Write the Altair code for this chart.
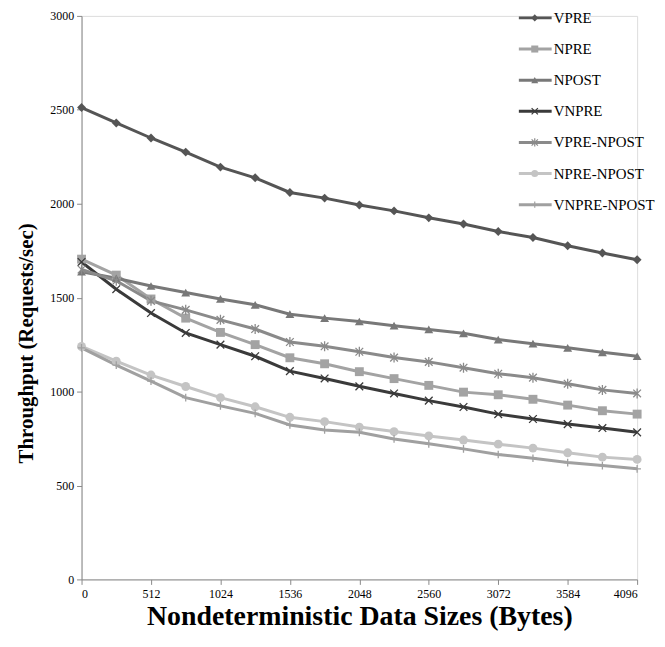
import altair as alt
import pandas as pd

sizes = [0, 256, 512, 768, 1024, 1280, 1536, 1792, 2048, 2304, 2560, 2816, 3072, 3328, 3584, 3840, 4096]
series_names = ["VPRE", "NPRE", "NPOST", "VNPRE", "VPRE-NPOST", "NPRE-NPOST", "VNPRE-NPOST"]

vpre = [2512, 2430, 2350, 2275, 2195, 2138, 2060, 2030, 1993, 1962, 1925, 1892, 1852, 1820, 1776, 1738, 1702]
npre = [1705, 1620, 1493, 1391, 1315, 1250, 1180, 1148, 1106, 1069, 1033, 997, 983, 959, 928, 898, 880]
npost = [1638, 1603, 1562, 1527, 1493, 1462, 1412, 1391, 1373, 1351, 1331, 1310, 1277, 1255, 1233, 1209, 1188]
vnpre = [1690, 1545, 1418, 1312, 1250, 1188, 1109, 1070, 1028, 990, 952, 918, 880, 854, 827, 806, 783]
vpre_npost = [1650, 1590, 1483, 1435, 1382, 1333, 1264, 1241, 1212, 1181, 1158, 1127, 1095, 1074, 1042, 1009, 990]
npre_npost = [1240, 1162, 1088, 1027, 968, 919, 863, 840, 811, 787, 764, 742, 720, 699, 674, 651, 639]
vnpre_npost = [1233, 1141, 1056, 968, 924, 884, 822, 796, 783, 748, 722, 695, 665, 645, 622, 606, 589]

colors = ["#555555", "#a3a3a3", "#787878", "#3a3a3a", "#8a8a8a", "#c4c4c4", "#a0a0a0"]
shapes = [
    "diamond",
    "square",
    "triangle-up",
    "M-1,-1L1,1M-1,1L1,-1",
    "M-1,-1L1,1M-1,1L1,-1M0,-1.3L0,1.3",
    "circle",
    "M0,-1L0,1M-1,0L1,0",
]
filled_series = ["VPRE", "NPRE", "NPOST", "NPRE-NPOST"]

all_values = [vpre, npre, npost, vnpre, vpre_npost, npre_npost, vnpre_npost]
rows = []
for name, vals in zip(series_names, all_values):
    for s, v in zip(sizes, vals):
        rows.append({"size": s, "series": name, "throughput": v})
df = pd.DataFrame(rows)
legend_df = pd.DataFrame({"series": series_names})

FONT = "Liberation Serif"

color_scale = alt.Scale(domain=series_names, range=colors)
shape_scale = alt.Scale(domain=series_names, range=shapes)

x_enc = alt.X(
    "size:Q",
    scale=alt.Scale(domain=[0, 4096], nice=False),
    axis=alt.Axis(
        values=sizes,
        labelExpr="datum.value % 512 == 0 ? datum.label : ''",
        format="d",
        title="Nondeterministic Data Sizes (Bytes)",
        titleFont=FONT,
        titleFontSize=28,
        titleFontWeight="bold",
        titleColor="#000000",
        titleY=37,
        titleBaseline="middle",
        labelFont=FONT,
        labelFontSize=12,
        labelColor="#000000",
        labelPadding=4,
        domainColor="#888888",
        tickColor="#888888",
        tickSize=5,
        grid=False,
    ),
)
y_enc = alt.Y(
    "throughput:Q",
    scale=alt.Scale(domain=[0, 3000], nice=False),
    axis=alt.Axis(
        values=[0, 500, 1000, 1500, 2000, 2500, 3000],
        format="d",
        title="Throughput (Requests/sec)",
        titleFont=FONT,
        titleFontSize=21,
        titleFontWeight="bold",
        titleColor="#000000",
        titleAngle=-90,
        titleX=-55,
        titleY=329,
        titleAlign="center",
        titleBaseline="middle",
        labelFont=FONT,
        labelFontSize=12,
        labelColor="#000000",
        labelPadding=3,
        domainColor="#888888",
        tickColor="#888888",
        tickSize=5,
        grid=False,
    ),
)

base = alt.Chart(df)

lines = base.mark_line(strokeWidth=3).encode(
    x=x_enc,
    y=y_enc,
    color=alt.Color("series:N", scale=color_scale, legend=None),
    detail="series:N",
)

filled_pts = base.transform_filter(
    alt.FieldOneOfPredicate(field="series", oneOf=filled_series)
).mark_point(filled=True, opacity=1, size=80).encode(
    x="size:Q",
    y="throughput:Q",
    color=alt.Color("series:N", scale=color_scale, legend=None),
    shape=alt.Shape("series:N", scale=shape_scale, legend=None),
)

open_pts = base.transform_filter(
    {"not": alt.FieldOneOfPredicate(field="series", oneOf=filled_series)}
).mark_point(filled=False, opacity=1, size=60, strokeWidth=1.3).encode(
    x="size:Q",
    y="throughput:Q",
    color=alt.Color("series:N", scale=color_scale, legend=None),
    shape=alt.Shape("series:N", scale=shape_scale, legend=None),
)

# Legend built as a layer
leg_y = alt.Y(
    "series:N",
    scale=alt.Scale(type="point", domain=series_names, range=[2, 190], padding=0),
    axis=None,
)
leg_base = alt.Chart(legend_df)
leg_lines = leg_base.mark_rule(strokeWidth=3).encode(
    x=alt.value(440),
    x2=alt.value(473),
    y=leg_y,
    color=alt.Color("series:N", scale=color_scale, legend=None),
)
leg_filled = leg_base.transform_filter(
    alt.FieldOneOfPredicate(field="series", oneOf=filled_series)
).mark_point(filled=True, opacity=1, size=50).encode(
    x=alt.value(456),
    y=leg_y,
    color=alt.Color("series:N", scale=color_scale, legend=None),
    shape=alt.Shape("series:N", scale=shape_scale, legend=None),
)
leg_open = leg_base.transform_filter(
    {"not": alt.FieldOneOfPredicate(field="series", oneOf=filled_series)}
).mark_point(filled=False, opacity=1, size=40, strokeWidth=1.2).encode(
    x=alt.value(456),
    y=leg_y,
    color=alt.Color("series:N", scale=color_scale, legend=None),
    shape=alt.Shape("series:N", scale=shape_scale, legend=None),
)
leg_text = leg_base.mark_text(
    align="left", baseline="middle", font=FONT, fontSize=15, color="#000000", dx=0
).encode(
    x=alt.value(475),
    y=leg_y,
    text="series:N",
)

legend_layer = alt.layer(leg_lines, leg_filled, leg_open, leg_text)

main = alt.layer(lines, filled_pts, open_pts)

chart = alt.layer(main, legend_layer).resolve_scale(
    y="independent"
).properties(
    width=559,
    height=567,
    autosize=alt.AutoSizeParams(type="none"),
    padding={"left": 74, "top": 6, "right": 20, "bottom": 58},
).configure_view(stroke=None).configure(background="white")

chart.save("out.html", embed_options={"renderer": "svg", "actions": False})
